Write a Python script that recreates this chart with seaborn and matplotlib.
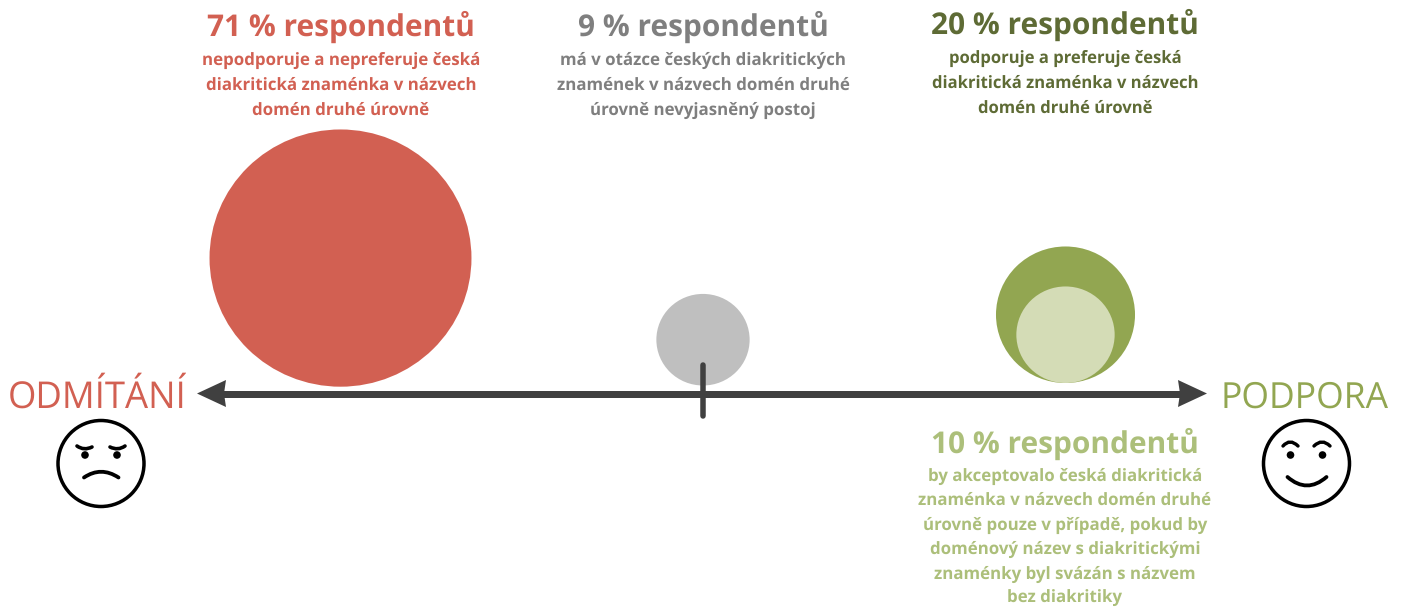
import numpy as np
import pandas as pd
import seaborn as sns
import matplotlib
matplotlib.use("Agg")
import matplotlib.pyplot as plt
from matplotlib.markers import MarkerStyle
from matplotlib.patches import Circle, PathPatch, Polygon
from matplotlib.path import Path
from matplotlib.transforms import Affine2D

# Survey shares (percent of respondents)
groups = ["Odmítání", "Nevyjasněno", "Podpora", "Podmíněná podpora"]
shares = [71, 9, 20, 10]
stance = [-1, 0, 1, 1]

headlines = ["71 % respondentů", "9 % respondentů", "20 % respondentů", "10 % respondentů"]
details = [
    "nepodporuje a nepreferuje česká\ndiakritická znaménka v názvech\ndomén druhé úrovně",
    "má v otázce českých diakritických\nznamének v názvech domén druhé\núrovně nevyjasněný postoj",
    "podporuje a preferuje česká\ndiakritická znaménka v názvech\ndomén druhé úrovně",
    "by akceptovalo česká diakritická\nznaménka v názvech domén druhé\núrovně pouze v případě, pokud by\ndoménový název s diakritickými\nznaménky byl svázán s názvem\nbez diakritiky",
]

RED, GREY, GREEN, PALE = "#D26052", "#BFBFBF", "#92A651", "#D4DCB6"
RED_T, GREY_T, OLIVE_T, LIGHT_T = "#D26052", "#7F7F7F", "#5E6B35", "#ACBF7A"
DARK = "#404040"

W, H = 1403, 607
DPI = 100
sns.set_theme(style="white")
plt.rcParams["font.family"] = ["Open Sans", "DejaVu Sans"]
plt.rcParams["text.hinting"] = "no_hinting"

fig = plt.figure(figsize=(W / DPI, H / DPI), dpi=DPI, facecolor="white")
ax = fig.add_axes([0, 0, 1, 1])
ax.set_xlim(0, W)
ax.set_ylim(H, 0)
ax.axis("off")

# Bubble area is proportional to the share; every bubble rests just above the axis
AXIS_Y = 393.5
AXIS_MID = 703
STEP = 362.5
AREA_PT2 = 501.0  # marker area in pt^2 per percentage point
SQUASH = 0.982    # bubbles are very slightly flattened vertically
radius_px = np.sqrt(np.array(shares) * AREA_PT2) / 2 * DPI / 72
lifts = [6.8, 8, 10.5, 10.5]

bubbles = pd.DataFrame({
    "group": groups,
    "share": shares,
    "x": AXIS_MID + np.array(stance) * STEP,
    "y": AXIS_Y - np.array(lifts) - radius_px * SQUASH,
})
flat_disc = MarkerStyle(Path.unit_circle().transformed(Affine2D().scale(1, SQUASH)))
sns.scatterplot(
    data=bubbles, x="x", y="y", hue="group",
    palette=dict(zip(groups, [RED, GREY, GREEN, PALE])),
    size="share", size_norm=(min(shares), max(shares)),
    sizes=(min(shares) * AREA_PT2, max(shares) * AREA_PT2),
    marker=flat_disc, linewidth=0, legend=False, ax=ax, zorder=2, clip_on=False,
)
ax.set_xlabel("")
ax.set_ylabel("")

# Attitude axis with arrowheads and a centre mark
px = 72 / DPI
ax.plot([222, 1182], [AXIS_Y, AXIS_Y], color=DARK, lw=7 * px, solid_capstyle="butt", zorder=3)
ax.add_patch(Polygon([(197, AXIS_Y), (226, 380), (224, AXIS_Y), (226, 407)], closed=True, fc=DARK, ec="none", zorder=3))
ax.add_patch(Polygon([(1207, AXIS_Y), (1178, 380), (1180, AXIS_Y), (1178, 407)], closed=True, fc=DARK, ec="none", zorder=3))
ax.plot([703, 703], [365, 416], color=DARK, lw=5.5 * px, solid_capstyle="round", zorder=4)

# Text blocks above and below the axis: centre x, headline y, first line offset, line step, size
blocks = [
    (341, 27, 33, 25, 12.2, RED_T, 0),
    (703, 27, 33, 25, 12.2, GREY_T, 1),
    (1065, 25, 33, 25, 12.0, OLIVE_T, 2),
    (1065, 444, 32, 24.5, 12.2, LIGHT_T, 3),
]
for cx, top, offset, step, size, colour, i in blocks:
    ax.text(cx, top, headlines[i], color=colour, fontsize=21.5, fontweight="bold",
            ha="center", va="center")
    for n, line in enumerate(details[i].split("\n")):
        ax.text(cx, top + offset + step * n, line, color=colour, fontsize=size,
                fontweight="bold", ha="center", va="center")

ax.text(97.5, 398, "ODMÍTÁNÍ", color=RED_T, fontsize=26.3, ha="center", va="center")
ax.text(1304.5, 398, "PODPORA", color=GREEN, fontsize=25.6, ha="center", va="center")


def stroke(p0, ctrl, p1, lw):
    """Quadratic curve used for the brows and mouths of the faces."""
    path = Path([p0, ctrl, p1], [Path.MOVETO, Path.CURVE3, Path.CURVE3])
    ax.add_patch(PathPatch(path, fc="none", ec="black", lw=lw * px, capstyle="round", zorder=5))


def face_base(cx, cy=463.5, r=43):
    ax.add_patch(Circle((cx, cy), r, fc="white", ec="black", lw=3.5 * px, zorder=5))
    for ex in (cx - 16, cx + 16):
        ax.add_patch(Circle((ex, 455), 3.8, fc="black", ec="none", zorder=5))


# Unhappy face
face_base(101)
stroke((77, 446), (84, 451), (92, 447), 3.6)
stroke((125, 446), (118, 451), (110, 447), 3.6)
stroke((84, 477.5), (101, 466), (118.5, 477.5), 3.8)

# Happy face
face_base(1306.5)
stroke((1283, 446), (1290, 438), (1298, 446), 3.4)
stroke((1314, 446), (1322, 438), (1330, 446), 3.4)
stroke((1287.5, 477), (1307, 494), (1326.5, 477), 3.8)

fig.savefig("out.png", dpi=DPI, facecolor="white")
